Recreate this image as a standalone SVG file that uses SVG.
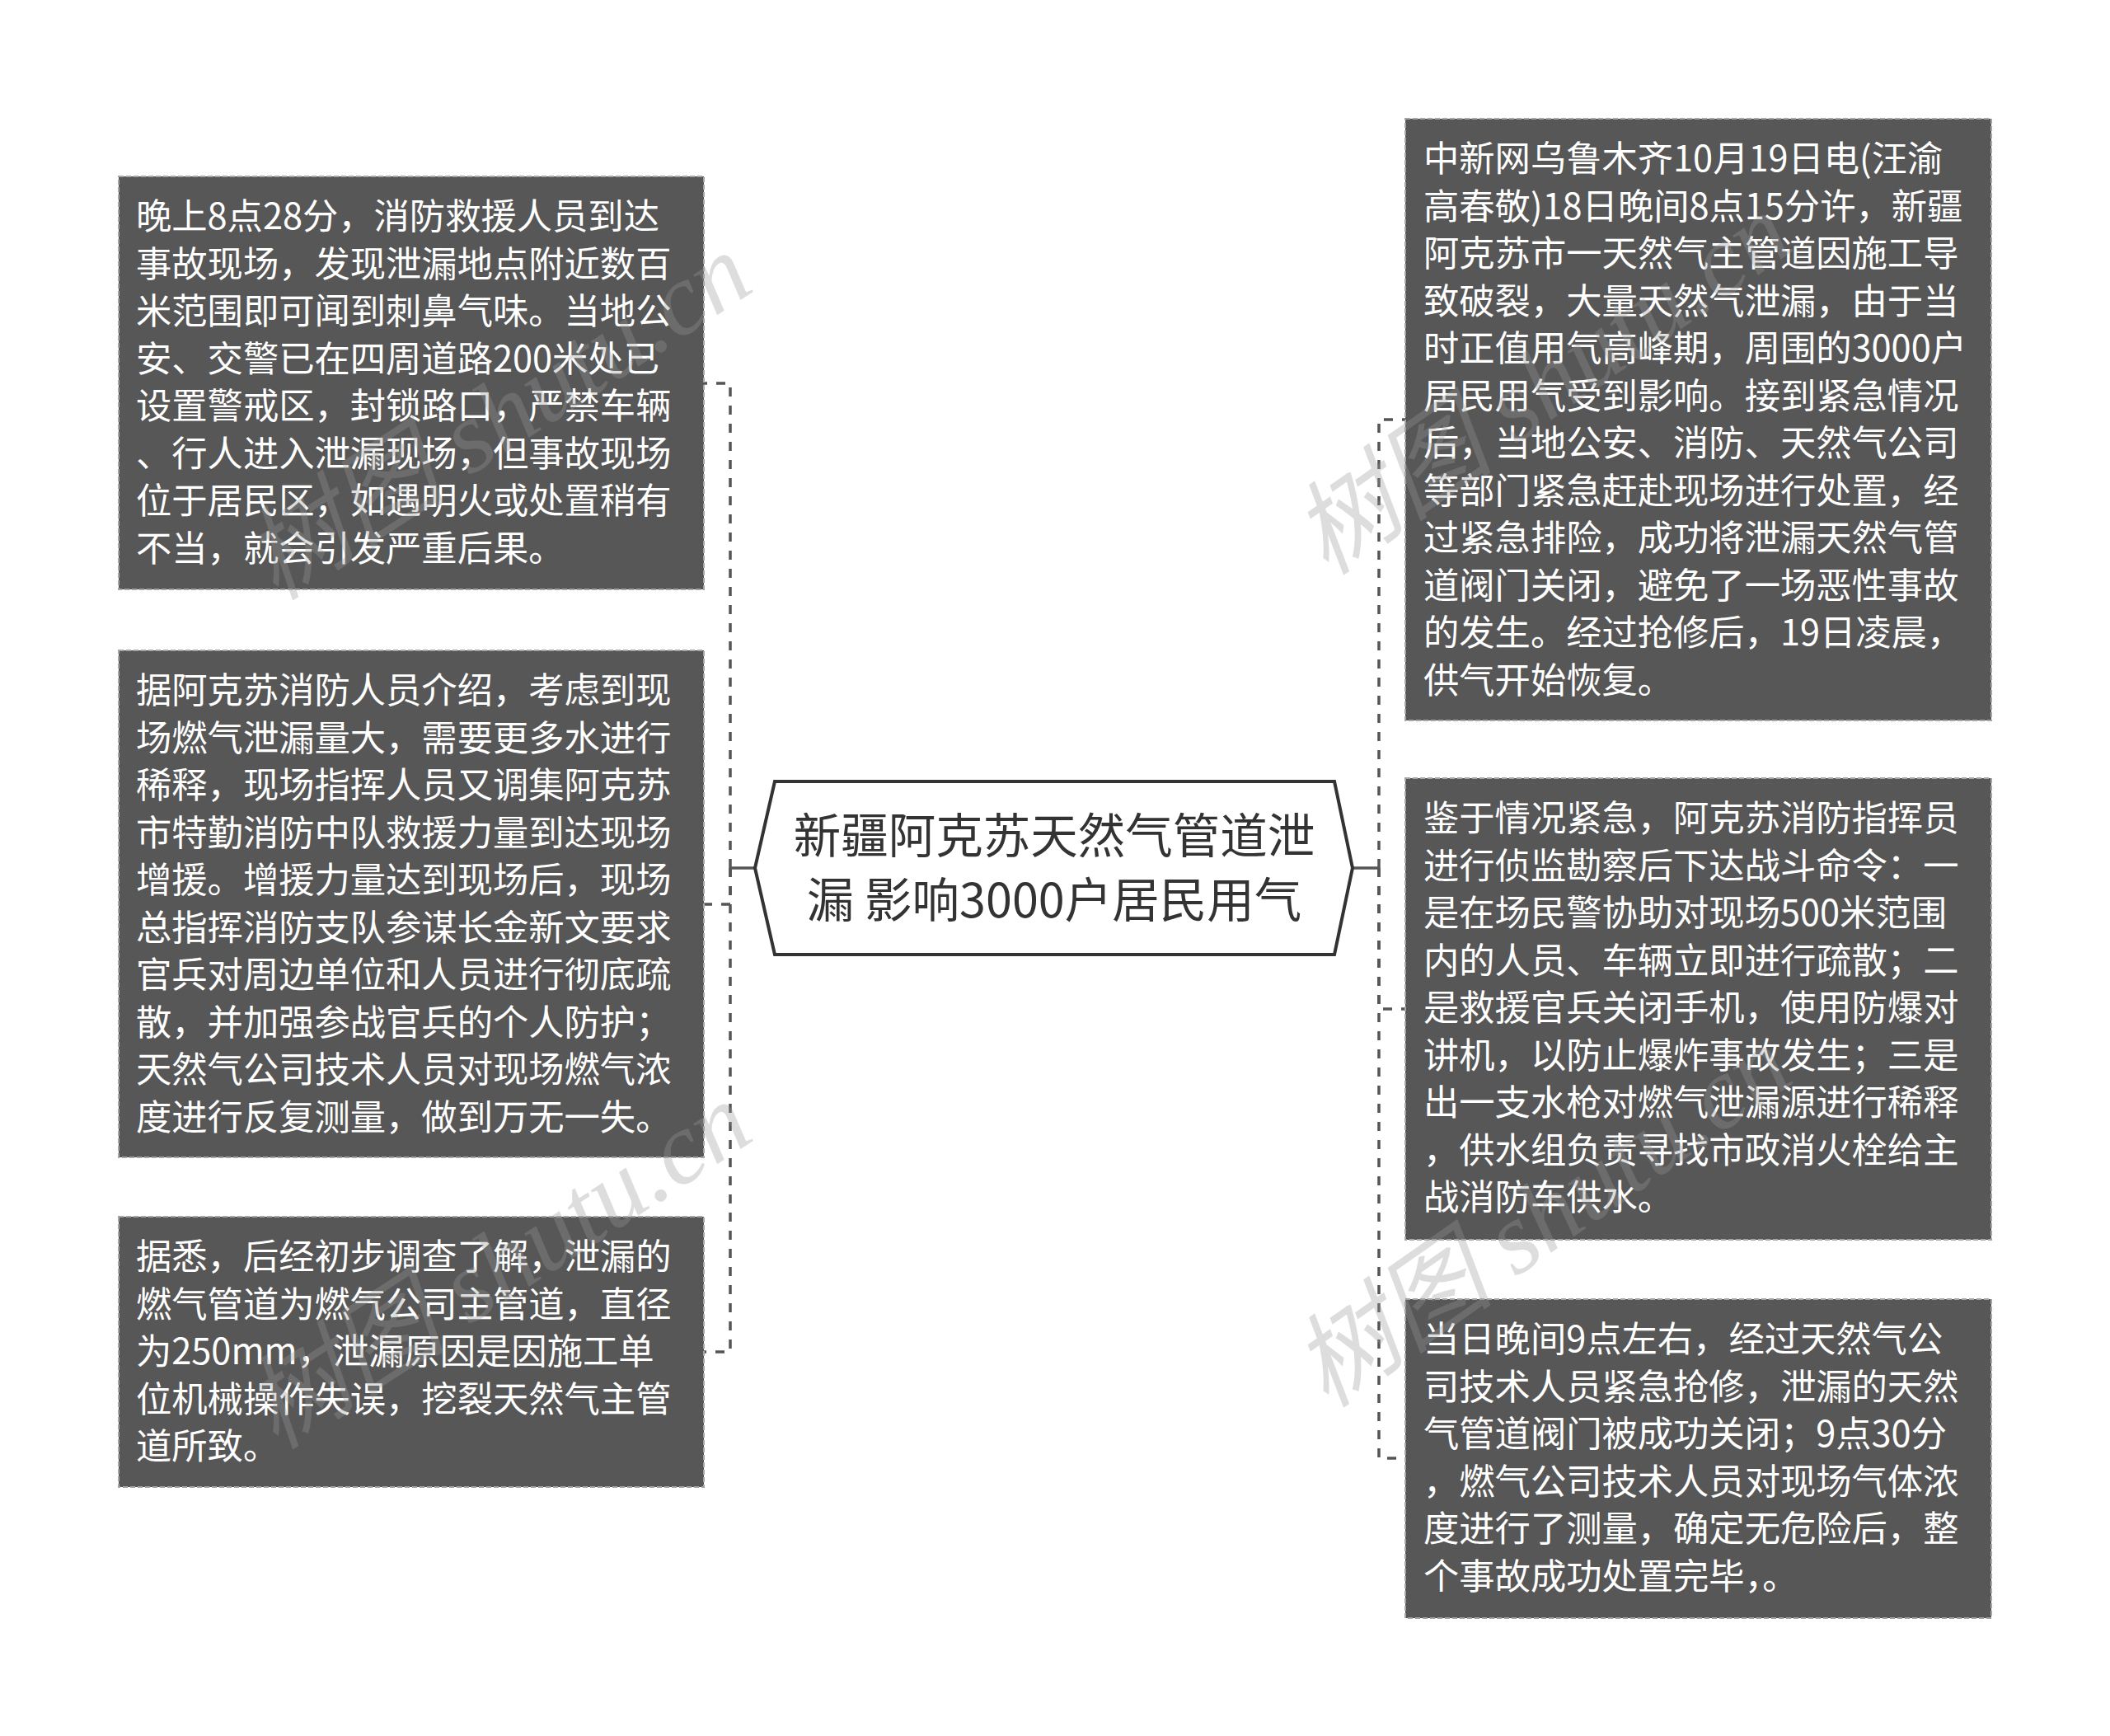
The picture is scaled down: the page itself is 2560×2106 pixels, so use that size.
<svg xmlns="http://www.w3.org/2000/svg" width="2560" height="2106" viewBox="0 0 2560 2106">
<style>
.box{fill:#575757;stroke:#a6a6a6;stroke-width:2;stroke-dasharray:6 3}
.txt{font-family:"Noto Sans CJK SC","Noto Sans",sans-serif;font-size:43.3px;fill:#ffffff}
.title{font-family:"Noto Sans CJK SC","Noto Sans",sans-serif;font-size:57.5px;fill:#333333;text-anchor:middle}
.dash{fill:none;stroke:#555555;stroke-width:3.5;stroke-dasharray:11 11}
.solid{fill:none;stroke:#555555;stroke-width:3.5}
.wm{font-family:"Liberation Serif","Noto Sans CJK SC",serif;font-size:124px;fill:#999999;opacity:0.32;font-style:italic}
</style>
<rect width="2560" height="2106" fill="#ffffff"/>
<g id="connectors">
<path class="solid" d="M916,1053 L886,1053"/>
<path class="solid" d="M1641,1053 L1673,1053"/>
<path class="dash" d="M886,1053 L886,465 L854,465"/>
<path class="dash" d="M886,1053 L886,1097 L854,1097"/>
<path class="dash" d="M886,1053 L886,1640 L854,1640"/>
<path class="dash" d="M1673,1053 L1673,509 L1705,509"/>
<path class="dash" d="M1673,1053 L1673,1224 L1705,1224"/>
<path class="dash" d="M1673,1053 L1673,1769 L1705,1769"/>
</g>
<g id="center">
<polygon points="916,1053 940,948 1619,948 1641,1053 1619,1158 940,1158" fill="#ffffff" stroke="#333333" stroke-width="4"/>
<text class="title" x="1279" y="1035">新疆阿克苏天然气管道泄</text>
<text class="title" x="1279" y="1113">漏 影响3000户居民用气</text>
</g>
<g id="node-l1">
<rect class="box" x="144" y="214" width="710" height="501"/>
<text class="txt" y="278"><tspan x="165">晚上8点28分，消防救援人员到达</tspan><tspan x="165" dy="57.5">事故现场，发现泄漏地点附近数百</tspan><tspan x="165" dy="57.5">米范围即可闻到刺鼻气味。当地公</tspan><tspan x="165" dy="57.5">安、交警已在四周道路200米处已</tspan><tspan x="165" dy="57.5">设置警戒区，封锁路口，严禁车辆</tspan><tspan x="165" dy="57.5">、行人进入泄漏现场，但事故现场</tspan><tspan x="165" dy="57.5">位于居民区，如遇明火或处置稍有</tspan><tspan x="165" dy="57.5">不当，就会引发严重后果。</tspan></text>
</g>
<g id="node-l2">
<rect class="box" x="144" y="789" width="710" height="615"/>
<text class="txt" y="853"><tspan x="165">据阿克苏消防人员介绍，考虑到现</tspan><tspan x="165" dy="57.5">场燃气泄漏量大，需要更多水进行</tspan><tspan x="165" dy="57.5">稀释，现场指挥人员又调集阿克苏</tspan><tspan x="165" dy="57.5">市特勤消防中队救援力量到达现场</tspan><tspan x="165" dy="57.5">增援。增援力量达到现场后，现场</tspan><tspan x="165" dy="57.5">总指挥消防支队参谋长金新文要求</tspan><tspan x="165" dy="57.5">官兵对周边单位和人员进行彻底疏</tspan><tspan x="165" dy="57.5">散，并加强参战官兵的个人防护；</tspan><tspan x="165" dy="57.5">天然气公司技术人员对现场燃气浓</tspan><tspan x="165" dy="57.5">度进行反复测量，做到万无一失。</tspan></text>
</g>
<g id="node-l3">
<rect class="box" x="144" y="1476" width="710" height="328"/>
<text class="txt" y="1540"><tspan x="165">据悉，后经初步调查了解，泄漏的</tspan><tspan x="165" dy="57.5">燃气管道为燃气公司主管道，直径</tspan><tspan x="165" dy="57.5">为250mm，泄漏原因是因施工单</tspan><tspan x="165" dy="57.5">位机械操作失误，挖裂天然气主管</tspan><tspan x="165" dy="57.5">道所致。</tspan></text>
</g>
<g id="node-r1">
<rect class="box" x="1705" y="144" width="711" height="730"/>
<text class="txt" y="208"><tspan x="1727">中新网乌鲁木齐10月19日电(汪渝</tspan><tspan x="1727" dy="57.5">高春敬)18日晚间8点15分许，新疆</tspan><tspan x="1727" dy="57.5">阿克苏市一天然气主管道因施工导</tspan><tspan x="1727" dy="57.5">致破裂，大量天然气泄漏，由于当</tspan><tspan x="1727" dy="57.5">时正值用气高峰期，周围的3000户</tspan><tspan x="1727" dy="57.5">居民用气受到影响。接到紧急情况</tspan><tspan x="1727" dy="57.5">后，当地公安、消防、天然气公司</tspan><tspan x="1727" dy="57.5">等部门紧急赶赴现场进行处置，经</tspan><tspan x="1727" dy="57.5">过紧急排险，成功将泄漏天然气管</tspan><tspan x="1727" dy="57.5">道阀门关闭，避免了一场恶性事故</tspan><tspan x="1727" dy="57.5">的发生。经过抢修后，19日凌晨，</tspan><tspan x="1727" dy="57.5">供气开始恢复。</tspan></text>
</g>
<g id="node-r2">
<rect class="box" x="1705" y="944" width="711" height="560"/>
<text class="txt" y="1008"><tspan x="1727">鉴于情况紧急，阿克苏消防指挥员</tspan><tspan x="1727" dy="57.5">进行侦监勘察后下达战斗命令：一</tspan><tspan x="1727" dy="57.5">是在场民警协助对现场500米范围</tspan><tspan x="1727" dy="57.5">内的人员、车辆立即进行疏散；二</tspan><tspan x="1727" dy="57.5">是救援官兵关闭手机，使用防爆对</tspan><tspan x="1727" dy="57.5">讲机，以防止爆炸事故发生；三是</tspan><tspan x="1727" dy="57.5">出一支水枪对燃气泄漏源进行稀释</tspan><tspan x="1727" dy="57.5">，供水组负责寻找市政消火栓给主</tspan><tspan x="1727" dy="57.5">战消防车供水。</tspan></text>
</g>
<g id="node-r3">
<rect class="box" x="1705" y="1576" width="711" height="387"/>
<text class="txt" y="1640"><tspan x="1727">当日晚间9点左右，经过天然气公</tspan><tspan x="1727" dy="57.5">司技术人员紧急抢修，泄漏的天然</tspan><tspan x="1727" dy="57.5">气管道阀门被成功关闭；9点30分</tspan><tspan x="1727" dy="57.5">，燃气公司技术人员对现场气体浓</tspan><tspan x="1727" dy="57.5">度进行了测量，确定无危险后，整</tspan><tspan x="1727" dy="57.5">个事故成功处置完毕，。</tspan></text>
</g>
<g id="watermark">
<text class="wm" transform="translate(335,730) rotate(-33)">树图 shutu.cn</text>
<text class="wm" transform="translate(335,1760) rotate(-33)">树图 shutu.cn</text>
<text class="wm" transform="translate(1610,700) rotate(-35)">树图 shutu.cn</text>
<text class="wm" transform="translate(1610,1710) rotate(-35)">树图 shutu.cn</text>
</g>
</svg>
